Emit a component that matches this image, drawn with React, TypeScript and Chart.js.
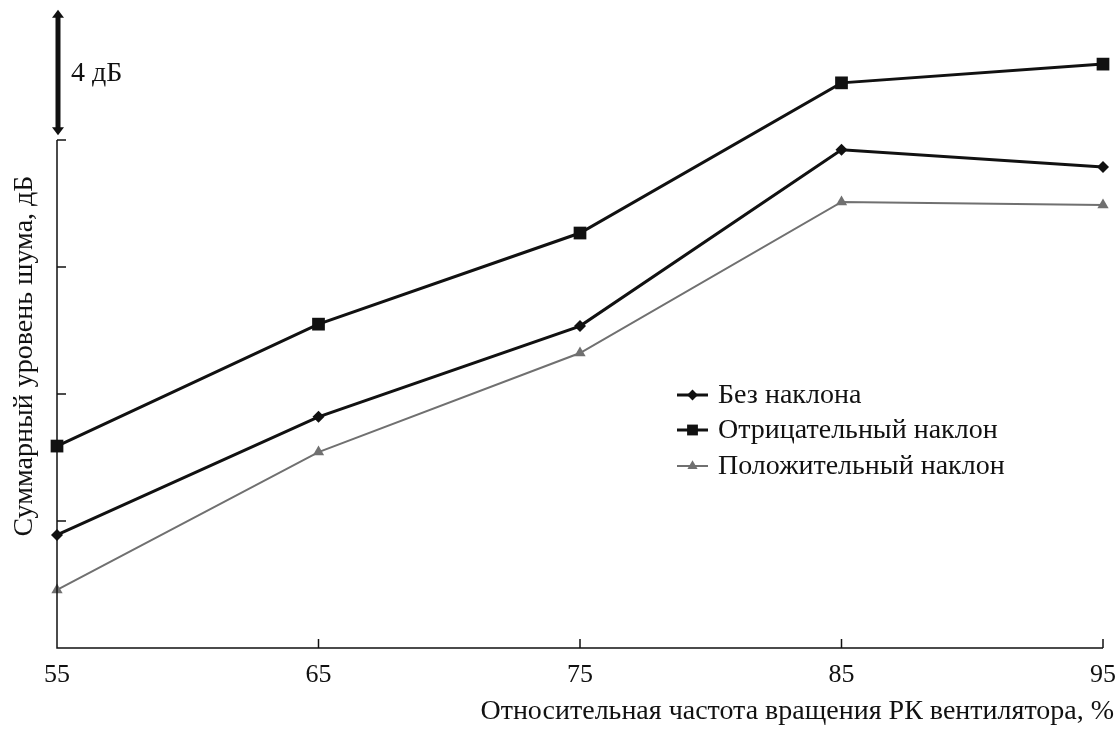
import React, { useEffect, useRef } from "react";
import { Chart, registerables } from "chart.js";

Chart.register(...registerables);

const frequencies = [55, 65, 75, 85, 95];
const noSlope = [3.56, 7.28, 10.14, 15.69, 15.15];
const negativeSlope = [6.36, 10.2, 13.07, 17.8, 18.39];
const positiveSlope = [1.83, 6.17, 9.29, 14.05, 13.95];
const seriesNames = ["Без наклона", "Отрицательный наклон", "Положительный наклон"];
const xTickValues = [55, 65, 75, 85, 95];
const yTickValues = [4, 8, 12, 16];
const xTitle = "Относительная частота вращения РК вентилятора, %";
const yTitle = "Суммарный уровень шума, дБ";
const scaleBarLabel = "4 дБ";
const scaleBarFrom = 16.15;
const scaleBarTo = 20.1;

const FONT = "'Liberation Serif', 'Times New Roman', serif";
const BLACK = "#111111";
const GRAY = "#707070";

type Style = { color: string; width: number; shape: string; radius: number };
const styles: Style[] = [
  { color: BLACK, width: 3, shape: "rectRot", radius: 6 },
  { color: BLACK, width: 3, shape: "rect", radius: 9 },
  { color: GRAY, width: 2, shape: "triangle", radius: 6.5 },
];

function drawMarker(ctx: CanvasRenderingContext2D, shape: string, x: number, y: number, r: number, color: string) {
  ctx.save();
  ctx.fillStyle = color;
  ctx.beginPath();
  if (shape === "rectRot") {
    ctx.moveTo(x, y - r);
    ctx.lineTo(x + r, y);
    ctx.lineTo(x, y + r);
    ctx.lineTo(x - r, y);
  } else if (shape === "rect") {
    const s = r * Math.SQRT1_2;
    ctx.rect(x - s, y - s, 2 * s, 2 * s);
  } else {
    ctx.moveTo(x, y - r);
    ctx.lineTo(x + r * 0.87, y + r * 0.5);
    ctx.lineTo(x - r * 0.87, y + r * 0.5);
  }
  ctx.closePath();
  ctx.fill();
  ctx.restore();
}

const decorPlugin = {
  id: "decor",
  afterDraw(chart: any) {
    const ctx: CanvasRenderingContext2D = chart.ctx;
    const xs = chart.scales.x;
    const ys = chart.scales.y;
    const left = xs.getPixelForValue(xTickValues[0]);
    const bottom = ys.getPixelForValue(0);
    ctx.save();
    ctx.strokeStyle = BLACK;
    ctx.lineWidth = 1.5;
    // axes
    ctx.beginPath();
    ctx.moveTo(left, ys.getPixelForValue(yTickValues[yTickValues.length - 1]));
    ctx.lineTo(left, bottom);
    ctx.lineTo(xs.getPixelForValue(xTickValues[xTickValues.length - 1]), bottom);
    ctx.stroke();
    // y ticks (inward)
    for (const v of yTickValues) {
      const py = ys.getPixelForValue(v);
      ctx.beginPath();
      ctx.moveTo(left, py);
      ctx.lineTo(left + 9, py);
      ctx.stroke();
    }
    // x ticks (inward)
    for (const v of xTickValues.slice(1)) {
      const px = xs.getPixelForValue(v);
      ctx.beginPath();
      ctx.moveTo(px, bottom);
      ctx.lineTo(px, bottom - 9);
      ctx.stroke();
    }
    // scale bar arrow
    const ax = left + 1;
    const aTop = ys.getPixelForValue(scaleBarTo);
    const aBot = ys.getPixelForValue(scaleBarFrom);
    ctx.lineWidth = 5;
    ctx.beginPath();
    ctx.moveTo(ax, aTop + 6);
    ctx.lineTo(ax, aBot - 6);
    ctx.stroke();
    ctx.fillStyle = BLACK;
    ctx.beginPath();
    ctx.moveTo(ax, aTop);
    ctx.lineTo(ax + 6, aTop + 8);
    ctx.lineTo(ax - 6, aTop + 8);
    ctx.closePath();
    ctx.fill();
    ctx.beginPath();
    ctx.moveTo(ax, aBot);
    ctx.lineTo(ax + 6, aBot - 8);
    ctx.lineTo(ax - 6, aBot - 8);
    ctx.closePath();
    ctx.fill();
    ctx.font = `28px ${FONT}`;
    ctx.textBaseline = "middle";
    ctx.textAlign = "left";
    ctx.fillText(scaleBarLabel, ax + 13, (aTop + aBot) / 2 + 1);
    // axis titles
    ctx.font = `28px ${FONT}`;
    ctx.textAlign = "right";
    ctx.textBaseline = "middle";
    ctx.fillText(xTitle, chart.width - 3, 712);
    ctx.save();
    ctx.translate(25, 356);
    ctx.rotate(-Math.PI / 2);
    ctx.textAlign = "center";
    ctx.fillText(yTitle, 0, 0);
    ctx.restore();
    // legend
    const rows = [395, 430, 466];
    ctx.textAlign = "left";
    ctx.font = `28px ${FONT}`;
    seriesNames.forEach((name, i) => {
      const st = styles[i];
      const y = rows[i];
      ctx.strokeStyle = st.color;
      ctx.lineWidth = st.width;
      ctx.beginPath();
      ctx.moveTo(677, y);
      ctx.lineTo(708, y);
      ctx.stroke();
      drawMarker(ctx, st.shape, 692.5, y, st.radius * (i === 1 ? 0.85 : 0.9), st.color);
      ctx.fillStyle = BLACK;
      ctx.fillText(name, 718, y + 1);
    });
    ctx.restore();
  },
};

export default function App() {
  const ref = useRef<HTMLCanvasElement | null>(null);
  useEffect(() => {
    if (!ref.current) return;
    const seriesData = [noSlope, negativeSlope, positiveSlope];
    const chart = new Chart(ref.current, {
      type: "line",
      data: {
        datasets: seriesData.map((vals, i) => ({
          label: seriesNames[i],
          data: frequencies.map((f, j) => ({ x: f, y: vals[j] })),
          borderColor: styles[i].color,
          backgroundColor: styles[i].color,
          borderWidth: styles[i].width,
          pointStyle: styles[i].shape as any,
          pointRadius: styles[i].radius,
          pointBorderWidth: 0,
          tension: 0,
          fill: false,
          clip: false as any,
        })),
      },
      options: {
        responsive: false,
        animation: false,
        devicePixelRatio: 1,
        events: [],
        layout: { padding: { left: 57, right: 14, top: 13, bottom: 0 } },
        plugins: { legend: { display: false }, tooltip: { enabled: false } },
        scales: {
          x: {
            type: "linear",
            min: 55,
            max: 95,
            grid: { display: false, drawTicks: false },
            border: { display: false },
            afterBuildTicks: (s: any) => {
              s.ticks = xTickValues.map((v) => ({ value: v }));
            },
            afterFit: (s: any) => {
              s.height = 94;
              s.paddingLeft = 0;
              s.paddingRight = 0;
            },
            ticks: {
              color: BLACK,
              font: { family: FONT, size: 26 },
              padding: 12,
              maxRotation: 0,
              callback: (v: any) => String(v),
            },
          },
          y: {
            type: "linear",
            min: 0,
            max: 20,
            display: false,
          },
        },
      },
      plugins: [decorPlugin],
    });
    return () => chart.destroy();
  }, []);
  return (
    <div style={{ position: "absolute", left: 0, top: 0, width: 1117, height: 742, background: "#fff" }}>
      <canvas ref={ref} width={1117} height={742} style={{ display: "block" }} />
    </div>
  );
}
